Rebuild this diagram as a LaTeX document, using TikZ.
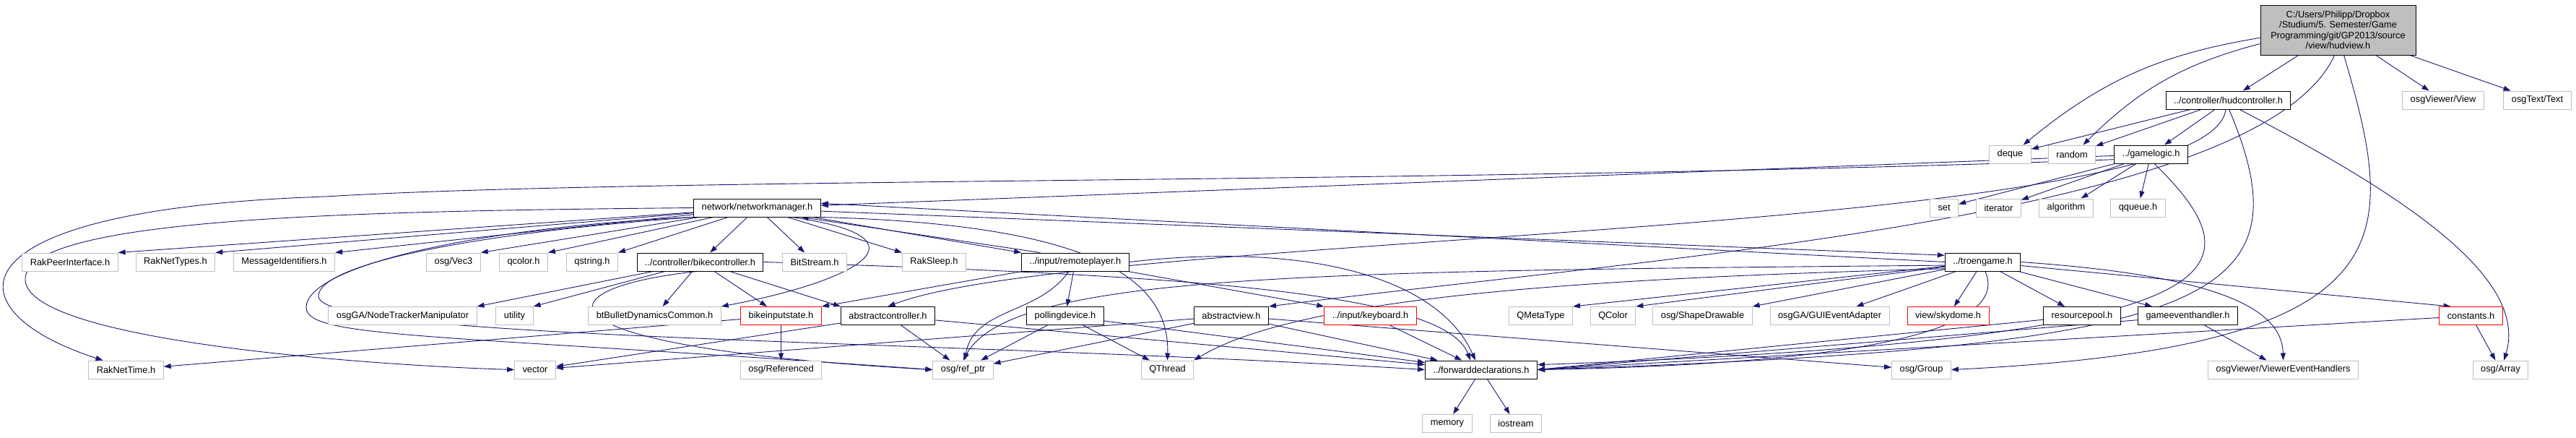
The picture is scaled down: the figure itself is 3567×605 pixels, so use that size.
\documentclass[tikz,border=0pt]{standalone}
\usepackage{fontspec}
\setsansfont{Liberation Sans}
\usetikzlibrary{arrows.meta,backgrounds}
\definecolor{edgeblue}{HTML}{191970}
\definecolor{extgray}{HTML}{BFBFBF}
\definecolor{rootfill}{HTML}{BFBFBF}
\definecolor{truncred}{HTML}{FF0000}

\begin{document}
\begin{tikzpicture}[
    x=1pt, y=1pt,
    >={Triangle[length=10pt,width=7pt]},
    every node/.style={font=\sffamily\fontsize{12.8}{14.5}\selectfont},
    filebox/.style={
        draw=black,
        fill=white,
        line width=1pt,
        minimum height=25pt,
        inner xsep=11pt,
        inner ysep=2pt,
    },
    extbox/.style={filebox, draw=extgray},
    redbox/.style={filebox, draw=truncred},
    rootbox/.style={
        filebox,
        fill=rootfill,
        minimum width=215pt,
        minimum height=69pt,
        align=center,
    },
    arrow/.style={->, line width=0.9pt, color=edgeblue},
]
\useasboundingbox (0,0) rectangle (3567,-605);

% Root file
\node[rootbox] (hud) at (3237.5,-41.5) {C:/Users/Philipp/Dropbox\\/Studium/5. Semester/Game\\Programming/git/GP2013/source\\/view/hudview.h};

% Row 1
\node[filebox] (hudctl) at (3085.5,-138.5) {../controller/hudcontroller.h};
\node[extbox] (osgview) at (3383,-138.5) {osgViewer/View};
\node[extbox] (osgtext) at (3513.5,-138.5) {osgText/Text};

% Row 2
\node[extbox] (deque) at (2783.5,-213.5) {deque};
\node[extbox] (random) at (2869,-213.5) {random};
\node[filebox] (gamelogic) at (2978.5,-213.5) {../gamelogic.h};

% Row 3
\node[filebox] (netmgr) at (1048.5,-287.5) {network/networkmanager.h};
\node[extbox] (set) at (2692,-287.5) {set};
\node[extbox] (iterator) at (2767.5,-287.5) {iterator};
\node[extbox] (algorithm) at (2861,-287.5) {algorithm};
\node[extbox] (qqueue) at (2960.5,-287.5) {qqueue.h};

% Row 4
\node[extbox] (rakpeer) at (97,-362.5) {RakPeerInterface.h};
\node[extbox] (raktypes) at (243,-362.5) {RakNetTypes.h};
\node[extbox] (msgids) at (393.5,-362.5) {MessageIdentifiers.h};
\node[extbox] (vecthree) at (628,-362.5) {osg/Vec3};
\node[extbox] (qcolorh) at (725,-362.5) {qcolor.h};
\node[extbox] (qstringh) at (820,-362.5) {qstring.h};
\node[filebox] (bikectl) at (969.5,-362.5) {../controller/bikecontroller.h};
\node[extbox] (bitstream) at (1128,-362.5) {BitStream.h};
\node[extbox] (raksleep) at (1293.5,-362.5) {RakSleep.h};
\node[filebox] (remote) at (1489,-362.5) {../input/remoteplayer.h};
\node[filebox] (troen) at (2745.5,-362.5) {../troengame.h};

% Row 5
\node[extbox] (nodetracker) at (557.5,-437) {osgGA/NodeTrackerManipulator};
\node[extbox] (utility) at (712.5,-437) {utility};
\node[extbox] (bullet) at (906.5,-437) {btBulletDynamicsCommon.h};
\node[redbox] (bikeinput) at (1081.5,-437) {bikeinputstate.h};
\node[filebox] (absctl) at (1229.5,-437) {abstractcontroller.h};
\node[filebox] (polling) at (1475,-437) {pollingdevice.h};
\node[filebox] (absview) at (1705,-437) {abstractview.h};
\node[redbox] (keyboard) at (1897.5,-437) {../input/keyboard.h};
\node[extbox] (qmetatype) at (2133.5,-437) {QMetaType};
\node[extbox] (qcolor) at (2233.5,-437) {QColor};
\node[extbox] (shapedraw) at (2357.5,-437) {osg/ShapeDrawable};
\node[extbox] (guievent) at (2533.5,-437) {osgGA/GUIEventAdapter};
\node[redbox] (skydome) at (2697.5,-437) {view/skydome.h};
\node[filebox] (respool) at (2883,-437) {resourcepool.h};
\node[filebox] (gameevent) at (3029.5,-437) {gameeventhandler.h};
\node[redbox] (constants) at (3421.5,-437) {constants.h};

% Row 6
\node[extbox] (raktime) at (174.5,-511.5) {RakNetTime.h};
\node[extbox] (vector) at (741,-511.5) {vector};
\node[extbox] (referenced) at (1081.5,-511.5) {osg/Referenced};
\node[extbox] (refptr) at (1333.5,-511.5) {osg/ref\_ptr};
\node[extbox] (qthread) at (1616.5,-511.5) {QThread};
\node[filebox] (fwd) at (2051,-511.5) {../forwarddeclarations.h};
\node[extbox] (osggroup) at (2660.5,-511.5) {osg/Group};
\node[extbox] (viewerevt) at (3161.5,-511.5) {osgViewer/ViewerEventHandlers};
\node[extbox] (osgarray) at (3462.5,-511.5) {osg/Array};

% Row 7
\node[extbox] (memory) at (2004,-586) {memory};
\node[extbox] (iostream) at (2099,-586) {iostream};

\begin{scope}[on background layer]
\fill[white] (0,0) rectangle (3567,-605);

% hudview.h
\draw[arrow] (hud) -- (hudctl);
\draw[arrow] (hud) -- (osgview);
\draw[arrow] (hud) -- (osgtext);
\draw[arrow] (hud) to[bend right=15] (deque);
\draw[arrow] (hud) to[bend right=15] (random);
\draw[arrow] (hud.262) .. controls (3130,-300) and (2300,-355) .. (absview.north east);
\draw[arrow] (hud.283) .. controls (3320,-330) and (3340,-480) .. (osggroup.east);

% hudcontroller.h
\draw[arrow] (hudctl) -- (gamelogic);
\draw[arrow] (hudctl) -- (deque);
\draw[arrow] (hudctl) -- (random);
\draw[arrow] (hudctl.255) .. controls (3060,-330) and (1500,-320) .. (absctl.north);
\draw[arrow] (hudctl.275) .. controls (3200,-420) and (3060,-480) .. (fwd.east);
\draw[arrow] (hudctl.320) .. controls (3350,-280) and (3500,-390) .. (osgarray.70);

% gamelogic.h
\draw[arrow] (gamelogic) -- (netmgr);
\draw[arrow] (gamelogic.188) .. controls (2000,-255) and (900,-245) .. (450,-272)
    .. controls (-80,-290) and (-70,-430) .. ([xshift=-32pt]raktime.north);
\draw[arrow] (gamelogic) -- (set);
\draw[arrow] (gamelogic) -- (iterator);
\draw[arrow] (gamelogic) -- (algorithm);
\draw[arrow] (gamelogic) -- (qqueue);
\draw[arrow] (gamelogic.290) .. controls (3140,-380) and (3100,-470) .. (fwd.5);

% networkmanager.h
\draw[arrow] (netmgr) -- (rakpeer.north east);
\draw[arrow] (netmgr) -- (raktypes.north east);
\draw[arrow] (netmgr) -- (msgids.north east);
\draw[arrow] (netmgr) -- (vecthree.north east);
\draw[arrow] (netmgr) -- (qcolorh.north east);
\draw[arrow] (netmgr) -- (qstringh.north east);
\draw[arrow] (netmgr) -- (bikectl);
\draw[arrow] (netmgr) -- (bitstream);
\draw[arrow] (netmgr) -- (raksleep.north west);
\draw[arrow] (netmgr) -- (remote.north west);
\draw[arrow] (netmgr.-3) -- (troen.170);
\draw[arrow] (netmgr.west) .. controls (500,-292) and (40,-300) .. (35,-385)
    .. controls (30,-470) and (500,-505) .. (vector.west);
\draw[arrow] (netmgr.south west) .. controls (650,-315) and (425,-370) .. (424,-425)
    .. controls (423,-468) and (600,-462) .. (refptr.west);
\draw[arrow] (netmgr.south west) .. controls (660,-322) and (440,-365) .. (441,-410)
    .. controls (442,-470) and (1300,-470) .. (fwd.west);
\draw[arrow] (netmgr.south east) .. controls (1500,-310) and (1620,-380) .. (qthread.north);
\draw[arrow] (netmgr.-15) .. controls (1300,-330) and (1180,-390) .. (bullet.north east);

% bikecontroller.h
\draw[arrow] (bikectl) -- (nodetracker.north east);
\draw[arrow] (bikectl) -- (utility.north east);
\draw[arrow] (bikectl) -- (bullet);
\draw[arrow] (bikectl) -- (bikeinput);
\draw[arrow] (bikectl) -- (absctl.north west);
\draw[arrow] (bikectl.250) .. controls (740,-400) and (730,-480) .. (refptr.west);
\draw[arrow] (bikectl.east) .. controls (1600,-380) and (2000,-400) .. ([xshift=-15pt]fwd.north);

% bikeinputstate.h
\draw[arrow] (bikeinput) -- (referenced);
\draw[arrow] (bikeinput) -- (raktime);

% abstractcontroller.h
\draw[arrow] (absctl) -- (refptr);
\draw[arrow] (absctl) -- (vector);
\draw[arrow] (absctl) -- (fwd);

% remoteplayer.h
\draw[arrow] (remote.165) -- (netmgr.-12);
\draw[arrow] (remote) -- (polling);
\draw[arrow] (remote) to[out=235,in=80] (refptr);
\draw[arrow] (remote) -- (bikeinput.north east);
\draw[arrow] (remote) -- (keyboard.north west);
\draw[arrow] (remote.east) .. controls (1800,-335) and (1990,-380) .. ([xshift=-8pt]fwd.north);

% pollingdevice.h, abstractview.h, keyboard.h
\draw[arrow] (polling) -- (refptr);
\draw[arrow] (polling) -- (qthread);
\draw[arrow] (polling) -- (fwd);
\draw[arrow] (absview) -- (refptr);
\draw[arrow] (absview) -- (vector);
\draw[arrow] (absview) -- (fwd);
\draw[arrow] (absview) -- (osggroup);
\draw[arrow] (keyboard) -- (fwd);

% troengame.h
\draw[arrow] (troen.west) -- (netmgr.4);
\draw[arrow] (troen) -- (qmetatype.north east);
\draw[arrow] (troen) -- (qcolor.north east);
\draw[arrow] (troen) -- (shapedraw.north east);
\draw[arrow] (troen) -- (guievent);
\draw[arrow] (troen) -- (skydome);
\draw[arrow] (troen) -- (respool);
\draw[arrow] (troen) -- (gameevent);
\draw[arrow] (troen) -- (constants.155);
\draw[arrow] (troen.185) .. controls (1800,-375) and (1400,-380) .. (refptr.north);
\draw[arrow] (troen.190) .. controls (2200,-385) and (1800,-410) .. (qthread.north east);
\draw[arrow] (troen.285) .. controls (2790,-470) and (2500,-505) .. (fwd.east);
\draw[arrow] (troen.east) .. controls (3050,-380) and (3160,-420) .. (viewerevt.north);

% remaining files
\draw[arrow] (respool) -- (fwd.east);
\draw[arrow] (gameevent) -- (fwd.east);
\draw[arrow] (gameevent) -- (viewerevt);
\draw[arrow] (constants) -- (fwd.east);
\draw[arrow] (constants) -- (osgarray);
\draw[arrow] (fwd) -- (memory);
\draw[arrow] (fwd) -- (iostream);
\end{scope}

\end{tikzpicture}
\end{document}
